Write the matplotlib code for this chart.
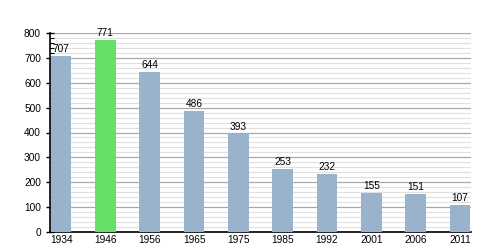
import matplotlib
matplotlib.use("Agg")
import matplotlib.pyplot as plt
from matplotlib.ticker import MultipleLocator

plt.rcParams["font.family"] = ["Liberation Sans", "DejaVu Sans"]

years = ["1934", "1946", "1956", "1965", "1975", "1985", "1992", "2001", "2006", "2011"]
values = [707, 771, 644, 486, 393, 253, 232, 155, 151, 107]
highlight = "1946"

blue = "#9ab3cc"
green = "#66e066"

fig = plt.figure(figsize=(5, 2.5), dpi=100)
ax = fig.add_axes([0.1, 0.072, 0.842, 0.796])

x = list(range(len(years)))
colors = [green if y == highlight else blue for y in years]
ax.bar(x, values, width=0.47, color=colors, zorder=3)
for xi, v in zip(x, values):
    ax.text(xi, v + 8, str(v), ha="center", va="bottom", fontsize=7.3, zorder=4)

ax.set_xlim(-0.25, 9.25)
ax.set_ylim(0, 800)
ax.set_xticks(x)
ax.set_xticklabels(years, fontsize=7.3)
ax.yaxis.set_major_locator(MultipleLocator(100))
ax.yaxis.set_minor_locator(MultipleLocator(20))
ax.tick_params(axis="y", labelsize=7.3, direction="inout", length=6, width=1)
ax.tick_params(axis="y", which="minor", direction="in", length=3, width=0.8)
ax.tick_params(axis="x", length=0, pad=2)
ax.grid(axis="y", which="major", color="#a8a8a8", linewidth=0.9, zorder=1)
ax.grid(axis="y", which="minor", color="#e0e0e0", linewidth=0.8, zorder=1)
for s in ["top", "right"]:
    ax.spines[s].set_visible(False)
ax.spines["left"].set_linewidth(1.2)
ax.spines["bottom"].set_linewidth(1.2)

fig.savefig("out.png", dpi=100)
